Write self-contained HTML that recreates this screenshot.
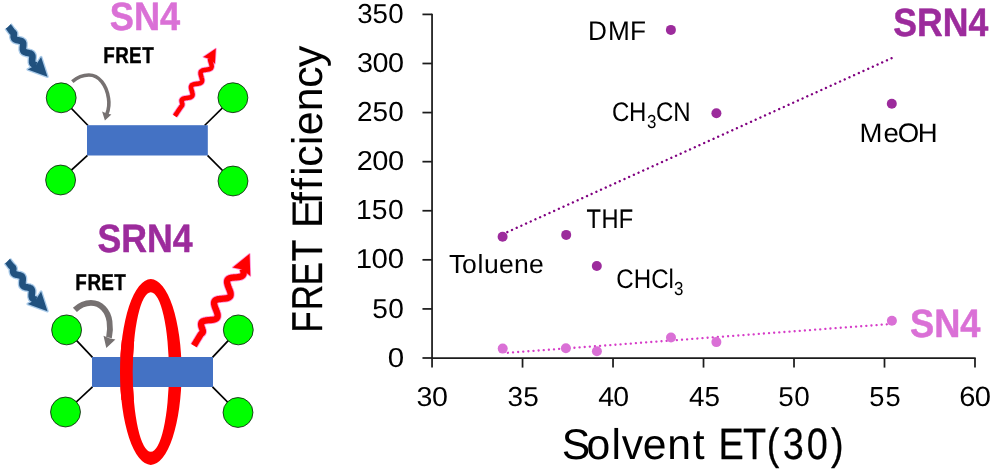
<!DOCTYPE html>
<html lang="en">
<head>
<meta charset="utf-8">
<title>FRET Efficiency vs Solvent ET(30)</title>
<style>
html,body{margin:0;padding:0;background:#fff;}
body{width:992px;height:469px;overflow:hidden;}
svg{display:block;}
text{font-family:"Liberation Sans",sans-serif;text-rendering:geometricPrecision;}
</style>
</head>
<body>
<svg width="992" height="469" viewBox="0 0 992 469">
<defs>
<filter id="glow" x="-30%" y="-30%" width="160%" height="160%"><feGaussianBlur stdDeviation="0.55"/></filter>
</defs>
<rect width="992" height="469" fill="#fff"/>

<g id="sn4-diagram">
<g stroke="#000" stroke-width="1.7" fill="none">
<line x1="61.2" y1="97.8" x2="88" y2="125.5"/>
<line x1="60.6" y1="180" x2="87.5" y2="155.3"/>
<line x1="232.9" y1="97.7" x2="204.6" y2="125.5"/>
<line x1="233" y1="181" x2="207.5" y2="155.3"/>
</g>
<g fill="#00ff00" stroke="#111" stroke-width="0.8">
<circle cx="61.2" cy="97.8" r="14.95"/>
<circle cx="232.9" cy="97.7" r="14.95"/>
<circle cx="60.6" cy="180" r="14.95"/>
<circle cx="233" cy="181" r="14.95"/>
</g>
<rect x="87" y="125.2" width="120.8" height="30.3" fill="#4472c4"/>
<text x="109.81" y="30.40" font-size="39.54" textLength="70.34" lengthAdjust="spacingAndGlyphs" font-weight="bold" stroke="#da70d6" stroke-width="0.50" stroke-linejoin="round" fill="#da70d6">SN4</text>
<text transform="translate(104.30 63.40) scale(0.8176 1)" x="-1.43 13.39 30.30 46.27" y="0" font-size="23.07" font-weight="bold" stroke="#000" stroke-width="0.40" stroke-linejoin="round" fill="#000">FRET</text>
<path d="M72.3 81.6 C 77 77.5, 83 75, 88.9 75 C 99 75, 106.5 85, 108.5 98.2 C 109.5 104, 108.8 109, 106.8 114.2" fill="none" stroke="#767171" stroke-width="3.6"/>
<path d="M104.9 120.4 L102.1 111.6 L106.6 113.4 L111.4 114.5 Z" fill="#767171"/>
<g filter="url(#glow)" opacity="0.85"><path d="M8.3 26.5 L8.5 26.7 L8.7 27.0 L8.8 27.2 L9.0 27.5 L9.2 27.7 L9.4 27.9 L9.5 28.2 L9.7 28.4 L9.9 28.7 L10.1 28.9 L10.2 29.2 L10.4 29.4 L10.6 29.6 L10.8 29.9 L11.0 30.1 L11.1 30.4 L11.3 30.6 L11.5 30.8 L11.7 31.1 L11.8 31.3 L12.0 31.6 L12.3 31.8 L12.5 32.0 L12.8 32.1 L13.0 32.3 L13.2 32.5 L13.4 32.7 L13.6 33.0 L13.8 33.3 L13.8 33.6 L13.9 33.9 L13.9 34.3 L13.9 34.7 L13.8 35.1 L13.8 35.5 L13.7 35.9 L13.7 36.2 L13.7 36.6 L13.7 37.0 L13.8 37.3 L13.9 37.6 L14.0 37.9 L14.1 38.2 L14.2 38.5 L14.4 38.7 L14.6 38.9 L14.8 39.1 L15.1 39.3 L15.4 39.5 L15.7 39.6 L16.0 39.8 L16.4 39.9 L16.7 40.0 L17.1 40.1 L17.5 40.2 L17.9 40.2 L18.3 40.3 L18.7 40.4 L19.1 40.5 L19.5 40.6 L19.9 40.7 L20.2 40.8 L20.6 40.9 L20.9 41.0 L21.3 41.1 L21.6 41.3 L21.9 41.4 L22.1 41.6 L22.3 41.8 L22.6 42.0 L22.7 42.3 L22.9 42.5 L23.0 42.8 L23.1 43.1 L23.2 43.4 L23.2 43.8 L23.2 44.1 L23.2 44.5 L23.2 44.9 L23.2 45.2 L23.2 45.6 L23.1 46.0 L23.1 46.4 L23.0 46.9 L23.0 47.3 L22.9 47.7 L22.9 48.0 L22.9 48.4 L22.9 48.8 L22.9 49.2 L22.9 49.5 L23.0 49.8 L23.1 50.2 L23.2 50.5 L23.3 50.7 L23.4 51.0 L23.6 51.2 L23.8 51.5 L24.1 51.7 L24.3 51.8 L24.6 52.0 L24.9 52.1 L25.2 52.3 L25.6 52.4 L26.0 52.5 L26.3 52.6 L26.7 52.7 L27.1 52.8 L27.5 52.8 L27.9 52.9 L28.3 53.0 L28.7 53.1 L29.1 53.2 L29.5 53.3 L29.8 53.4 L30.2 53.5 L30.5 53.6 L30.8 53.8 L31.1 54.0 L31.3 54.1 L31.6 54.3 L31.8 54.6 L31.9 54.8 L32.1 55.1 L32.2 55.4 L32.3 55.7 L32.3 56.0 L32.4 56.3 L32.4 56.7 L32.4 57.0 L32.4 57.4 L32.4 57.8 L32.3 58.2 L32.3 58.6 L32.2 59.0 L32.2 59.4 L32.2 59.8 L32.1 60.2 L32.1 60.6 L32.1 61.0 L32.1 61.4 L32.1 61.7 L32.1 62.1 L32.2 62.4 L32.2 62.7 L32.3 63.0 L32.5 63.3 L32.6 63.5 L32.8 63.8 L33.0 64.0 L33.3 64.2 L33.5 64.4 L33.8 64.5 L34.1 64.7 L34.5 64.8 L34.8 64.9 L35.2 65.0 L35.6 65.1 L36.0 65.2 L36.4 65.3" fill="none" stroke="#9dc3e6" stroke-width="9.2"/><path d="M47.5 76.7 L27.7 69.5 L36.0 64.9 L41.1 57.0 Z" fill="#9dc3e6" stroke="#9dc3e6" stroke-width="2.6" stroke-linejoin="round"/></g>
<path d="M8.3 26.5 L8.5 26.7 L8.7 27.0 L8.8 27.2 L9.0 27.5 L9.2 27.7 L9.4 27.9 L9.5 28.2 L9.7 28.4 L9.9 28.7 L10.1 28.9 L10.2 29.2 L10.4 29.4 L10.6 29.6 L10.8 29.9 L11.0 30.1 L11.1 30.4 L11.3 30.6 L11.5 30.8 L11.7 31.1 L11.8 31.3 L12.0 31.6 L12.3 31.8 L12.5 32.0 L12.8 32.1 L13.0 32.3 L13.2 32.5 L13.4 32.7 L13.6 33.0 L13.8 33.3 L13.8 33.6 L13.9 33.9 L13.9 34.3 L13.9 34.7 L13.8 35.1 L13.8 35.5 L13.7 35.9 L13.7 36.2 L13.7 36.6 L13.7 37.0 L13.8 37.3 L13.9 37.6 L14.0 37.9 L14.1 38.2 L14.2 38.5 L14.4 38.7 L14.6 38.9 L14.8 39.1 L15.1 39.3 L15.4 39.5 L15.7 39.6 L16.0 39.8 L16.4 39.9 L16.7 40.0 L17.1 40.1 L17.5 40.2 L17.9 40.2 L18.3 40.3 L18.7 40.4 L19.1 40.5 L19.5 40.6 L19.9 40.7 L20.2 40.8 L20.6 40.9 L20.9 41.0 L21.3 41.1 L21.6 41.3 L21.9 41.4 L22.1 41.6 L22.3 41.8 L22.6 42.0 L22.7 42.3 L22.9 42.5 L23.0 42.8 L23.1 43.1 L23.2 43.4 L23.2 43.8 L23.2 44.1 L23.2 44.5 L23.2 44.9 L23.2 45.2 L23.2 45.6 L23.1 46.0 L23.1 46.4 L23.0 46.9 L23.0 47.3 L22.9 47.7 L22.9 48.0 L22.9 48.4 L22.9 48.8 L22.9 49.2 L22.9 49.5 L23.0 49.8 L23.1 50.2 L23.2 50.5 L23.3 50.7 L23.4 51.0 L23.6 51.2 L23.8 51.5 L24.1 51.7 L24.3 51.8 L24.6 52.0 L24.9 52.1 L25.2 52.3 L25.6 52.4 L26.0 52.5 L26.3 52.6 L26.7 52.7 L27.1 52.8 L27.5 52.8 L27.9 52.9 L28.3 53.0 L28.7 53.1 L29.1 53.2 L29.5 53.3 L29.8 53.4 L30.2 53.5 L30.5 53.6 L30.8 53.8 L31.1 54.0 L31.3 54.1 L31.6 54.3 L31.8 54.6 L31.9 54.8 L32.1 55.1 L32.2 55.4 L32.3 55.7 L32.3 56.0 L32.4 56.3 L32.4 56.7 L32.4 57.0 L32.4 57.4 L32.4 57.8 L32.3 58.2 L32.3 58.6 L32.2 59.0 L32.2 59.4 L32.2 59.8 L32.1 60.2 L32.1 60.6 L32.1 61.0 L32.1 61.4 L32.1 61.7 L32.1 62.1 L32.2 62.4 L32.2 62.7 L32.3 63.0 L32.5 63.3 L32.6 63.5 L32.8 63.8 L33.0 64.0 L33.3 64.2 L33.5 64.4 L33.8 64.5 L34.1 64.7 L34.5 64.8 L34.8 64.9 L35.2 65.0 L35.6 65.1 L36.0 65.2 L36.4 65.3" fill="none" stroke="#21517e" stroke-width="6.6"/>
<path d="M47.5 76.7 L27.7 69.5 L36.0 64.9 L41.1 57.0 Z" fill="#21517e"/>
<g filter="url(#glow)" opacity="0.75"><path d="M174.8 116.0 L175.0 115.7 L175.3 115.3 L175.5 115.0 L175.7 114.6 L176.0 114.3 L176.2 113.9 L176.5 113.6 L176.7 113.2 L176.9 112.9 L177.2 112.5 L177.4 112.2 L177.6 111.8 L177.9 111.5 L178.1 111.1 L178.3 110.8 L178.6 110.4 L178.8 110.1 L179.1 109.7 L179.3 109.4 L179.5 109.0 L179.8 108.7 L180.0 108.3 L180.2 108.0 L180.5 107.6 L180.7 107.3 L181.0 106.9 L181.2 106.6 L181.5 106.3 L181.8 105.9 L182.0 105.6 L182.2 105.2 L182.3 104.8 L182.3 104.3 L182.3 103.8 L182.1 103.2 L182.0 102.6 L181.8 102.0 L181.7 101.4 L181.6 100.9 L181.6 100.4 L181.8 100.0 L182.0 99.6 L182.3 99.3 L182.7 99.1 L183.1 98.8 L183.6 98.6 L184.1 98.5 L184.7 98.3 L185.3 98.2 L185.9 98.1 L186.6 98.0 L187.2 97.9 L187.9 97.8 L188.5 97.7 L189.2 97.6 L189.7 97.5 L190.3 97.3 L190.8 97.1 L191.2 96.9 L191.6 96.6 L191.9 96.3 L192.2 96.0 L192.4 95.6 L192.5 95.2 L192.6 94.8 L192.6 94.3 L192.5 93.7 L192.4 93.2 L192.3 92.6 L192.1 92.0 L192.0 91.4 L191.8 90.8 L191.6 90.2 L191.4 89.6 L191.3 89.0 L191.1 88.4 L191.1 87.9 L191.0 87.4 L191.0 86.9 L191.1 86.4 L191.3 86.0 L191.5 85.7 L191.7 85.3 L192.1 85.1 L192.5 84.8 L192.9 84.6 L193.5 84.4 L194.0 84.3 L194.6 84.1 L195.2 84.0 L195.9 83.9 L196.6 83.8 L197.2 83.8 L197.9 83.7 L198.5 83.6 L199.1 83.4 L199.7 83.3 L200.2 83.1 L200.6 82.9 L201.0 82.6 L201.4 82.4 L201.7 82.0 L201.9 81.7 L202.0 81.3 L202.1 80.8 L202.1 80.3 L202.1 79.8 L202.0 79.3 L201.9 78.7 L201.7 78.1 L201.6 77.5 L201.4 76.9 L201.2 76.3 L201.0 75.7 L200.9 75.1 L200.7 74.5 L200.6 74.0 L200.6 73.4 L200.6 73.0 L200.6 72.5 L200.8 72.1 L200.9 71.7 L201.2 71.4 L201.5 71.1 L201.9 70.8 L202.3 70.6 L202.8 70.4 L203.4 70.2 L204.0 70.1 L204.6 70.0 L205.2 69.9 L205.9 69.8 L206.5 69.7 L207.2 69.6 L207.8 69.5 L208.4 69.4 L209.0 69.2 L209.6 69.1 L210.0 68.9 L210.5 68.6 L210.8 68.4 L211.1 68.1 L211.3 67.7 L211.5 67.3 L211.6 66.9 L211.7 66.4 L211.6 65.9 L211.6 65.4 L211.5 64.8 L211.3 64.2 L211.2 63.6 L211.0 63.0 L210.8 62.4 L210.6 61.8 L210.4 61.2 L210.3 60.6 L210.2 60.1 L210.1 59.5 L210.1 59.0 L210.1 58.5" fill="none" stroke="#ff70d0" stroke-width="6.2"/><path d="M215.8 48.6 L203.4 56.9 L209.9 58.9 L214.9 63.7 Z" fill="#ff70d0" stroke="#ff70d0" stroke-width="1.7" stroke-linejoin="round"/></g>
<path d="M174.8 116.0 L175.0 115.7 L175.3 115.3 L175.5 115.0 L175.7 114.6 L176.0 114.3 L176.2 113.9 L176.5 113.6 L176.7 113.2 L176.9 112.9 L177.2 112.5 L177.4 112.2 L177.6 111.8 L177.9 111.5 L178.1 111.1 L178.3 110.8 L178.6 110.4 L178.8 110.1 L179.1 109.7 L179.3 109.4 L179.5 109.0 L179.8 108.7 L180.0 108.3 L180.2 108.0 L180.5 107.6 L180.7 107.3 L181.0 106.9 L181.2 106.6 L181.5 106.3 L181.8 105.9 L182.0 105.6 L182.2 105.2 L182.3 104.8 L182.3 104.3 L182.3 103.8 L182.1 103.2 L182.0 102.6 L181.8 102.0 L181.7 101.4 L181.6 100.9 L181.6 100.4 L181.8 100.0 L182.0 99.6 L182.3 99.3 L182.7 99.1 L183.1 98.8 L183.6 98.6 L184.1 98.5 L184.7 98.3 L185.3 98.2 L185.9 98.1 L186.6 98.0 L187.2 97.9 L187.9 97.8 L188.5 97.7 L189.2 97.6 L189.7 97.5 L190.3 97.3 L190.8 97.1 L191.2 96.9 L191.6 96.6 L191.9 96.3 L192.2 96.0 L192.4 95.6 L192.5 95.2 L192.6 94.8 L192.6 94.3 L192.5 93.7 L192.4 93.2 L192.3 92.6 L192.1 92.0 L192.0 91.4 L191.8 90.8 L191.6 90.2 L191.4 89.6 L191.3 89.0 L191.1 88.4 L191.1 87.9 L191.0 87.4 L191.0 86.9 L191.1 86.4 L191.3 86.0 L191.5 85.7 L191.7 85.3 L192.1 85.1 L192.5 84.8 L192.9 84.6 L193.5 84.4 L194.0 84.3 L194.6 84.1 L195.2 84.0 L195.9 83.9 L196.6 83.8 L197.2 83.8 L197.9 83.7 L198.5 83.6 L199.1 83.4 L199.7 83.3 L200.2 83.1 L200.6 82.9 L201.0 82.6 L201.4 82.4 L201.7 82.0 L201.9 81.7 L202.0 81.3 L202.1 80.8 L202.1 80.3 L202.1 79.8 L202.0 79.3 L201.9 78.7 L201.7 78.1 L201.6 77.5 L201.4 76.9 L201.2 76.3 L201.0 75.7 L200.9 75.1 L200.7 74.5 L200.6 74.0 L200.6 73.4 L200.6 73.0 L200.6 72.5 L200.8 72.1 L200.9 71.7 L201.2 71.4 L201.5 71.1 L201.9 70.8 L202.3 70.6 L202.8 70.4 L203.4 70.2 L204.0 70.1 L204.6 70.0 L205.2 69.9 L205.9 69.8 L206.5 69.7 L207.2 69.6 L207.8 69.5 L208.4 69.4 L209.0 69.2 L209.6 69.1 L210.0 68.9 L210.5 68.6 L210.8 68.4 L211.1 68.1 L211.3 67.7 L211.5 67.3 L211.6 66.9 L211.7 66.4 L211.6 65.9 L211.6 65.4 L211.5 64.8 L211.3 64.2 L211.2 63.6 L211.0 63.0 L210.8 62.4 L210.6 61.8 L210.4 61.2 L210.3 60.6 L210.2 60.1 L210.1 59.5 L210.1 59.0 L210.1 58.5" fill="none" stroke="#ff0000" stroke-width="4.5"/>
<path d="M215.8 48.6 L203.4 56.9 L209.9 58.9 L214.9 63.7 Z" fill="#ff0000"/>
</g>
<g id="srn4-diagram">
<g stroke="#000" stroke-width="1.7" fill="none">
<line x1="66.6" y1="329.9" x2="92.5" y2="357.3"/>
<line x1="65.5" y1="412" x2="92.5" y2="386.8"/>
<line x1="238.3" y1="329.9" x2="212.5" y2="357.3"/>
<line x1="238" y1="412.5" x2="212.5" y2="386.8"/>
</g>
<g fill="#00ff00" stroke="#111" stroke-width="0.8">
<circle cx="66.6" cy="329.9" r="14.95"/>
<circle cx="238.3" cy="329.9" r="14.95"/>
<circle cx="65.5" cy="412" r="14.95"/>
<circle cx="238" cy="412.5" r="14.95"/>
</g>
<path d="M120 372 a30.8 92.9 0 1 0 61.6 0 a30.8 92.9 0 1 0 -61.6 0 Z M132.7 372 a18.1 79.8 0 1 1 36.2 0 a18.1 79.8 0 1 1 -36.2 0 Z" fill="#ff0000" fill-rule="evenodd"/>
<rect x="92" y="357" width="121" height="30" fill="#4472c4"/>
<clipPath id="lefthalf"><rect x="100" y="340" width="50.8" height="60"/></clipPath>
<path d="M120 372 a30.8 92.9 0 1 0 61.6 0 a30.8 92.9 0 1 0 -61.6 0 Z M132.7 372 a18.1 79.8 0 1 1 36.2 0 a18.1 79.8 0 1 1 -36.2 0 Z" fill="#ff0000" fill-rule="evenodd" clip-path="url(#lefthalf)"/>
<text x="97.42" y="252.30" font-size="39.54" textLength="95.12" lengthAdjust="spacingAndGlyphs" font-weight="bold" stroke="#9c2b9c" stroke-width="0.50" stroke-linejoin="round" fill="#9c2b9c">SRN4</text>
<text transform="translate(76.50 289.70) scale(0.8176 1)" x="-1.43 13.39 30.30 46.27" y="0" font-size="23.07" font-weight="bold" stroke="#000" stroke-width="0.40" stroke-linejoin="round" fill="#000">FRET</text>
<path d="M74.9 309.9 C 79 306, 85 302.9, 90.9 302.9 C 101 302.9, 108 311, 109.5 321.4 C 110.3 327, 110.2 332, 109 337.6" fill="none" stroke="#767171" stroke-width="5.8"/>
<path d="M106.3 348.1 L103.5 335.8 L109.3 338.2 L115.4 339.5 Z" fill="#767171"/>
<g filter="url(#glow)" opacity="0.85"><path d="M7.6 261.2 L7.8 261.4 L8.0 261.7 L8.1 261.9 L8.3 262.2 L8.5 262.4 L8.7 262.6 L8.9 262.9 L9.0 263.1 L9.2 263.4 L9.4 263.6 L9.6 263.8 L9.8 264.1 L9.9 264.3 L10.1 264.6 L10.3 264.8 L10.5 265.1 L10.7 265.3 L10.8 265.5 L11.0 265.8 L11.2 266.0 L11.4 266.2 L11.6 266.4 L11.9 266.6 L12.1 266.8 L12.4 267.0 L12.6 267.2 L12.8 267.4 L13.0 267.7 L13.1 268.0 L13.2 268.3 L13.3 268.6 L13.3 269.0 L13.2 269.4 L13.2 269.8 L13.1 270.2 L13.1 270.6 L13.1 271.0 L13.1 271.3 L13.2 271.7 L13.2 272.0 L13.3 272.3 L13.4 272.6 L13.5 272.9 L13.7 273.2 L13.9 273.4 L14.1 273.6 L14.3 273.8 L14.6 274.0 L14.9 274.2 L15.2 274.3 L15.5 274.4 L15.9 274.5 L16.2 274.6 L16.6 274.7 L17.0 274.8 L17.4 274.9 L17.8 275.0 L18.2 275.0 L18.6 275.1 L19.0 275.2 L19.4 275.3 L19.8 275.4 L20.1 275.5 L20.5 275.6 L20.8 275.7 L21.1 275.9 L21.4 276.1 L21.6 276.2 L21.9 276.4 L22.1 276.7 L22.2 276.9 L22.4 277.2 L22.5 277.5 L22.6 277.8 L22.6 278.1 L22.7 278.5 L22.7 278.8 L22.7 279.2 L22.7 279.6 L22.7 280.0 L22.6 280.4 L22.6 280.8 L22.5 281.2 L22.5 281.6 L22.5 282.0 L22.4 282.4 L22.4 282.8 L22.4 283.2 L22.4 283.5 L22.4 283.9 L22.5 284.2 L22.5 284.6 L22.6 284.9 L22.7 285.2 L22.9 285.4 L23.1 285.7 L23.3 285.9 L23.5 286.1 L23.7 286.3 L24.0 286.5 L24.3 286.6 L24.6 286.8 L25.0 286.9 L25.3 287.0 L25.7 287.1 L26.1 287.2 L26.5 287.2 L26.9 287.3 L27.3 287.4 L27.7 287.5 L28.1 287.5 L28.5 287.6 L28.9 287.7 L29.2 287.8 L29.6 287.9 L29.9 288.1 L30.2 288.2 L30.5 288.4 L30.8 288.5 L31.0 288.7 L31.2 289.0 L31.4 289.2 L31.6 289.5 L31.7 289.7 L31.8 290.0 L31.9 290.3 L31.9 290.7 L32.0 291.0 L32.0 291.4 L32.0 291.8 L32.0 292.2 L31.9 292.6 L31.9 293.0 L31.9 293.4 L31.8 293.8 L31.8 294.2 L31.7 294.6 L31.7 295.0 L31.7 295.4 L31.7 295.8 L31.7 296.1 L31.7 296.5 L31.8 296.8 L31.9 297.1 L32.0 297.4 L32.1 297.7 L32.2 298.0 L32.4 298.2 L32.6 298.4 L32.9 298.6 L33.1 298.8 L33.4 299.0 L33.7 299.1 L34.1 299.2 L34.4 299.3 L34.8 299.4 L35.2 299.5 L35.6 299.6 L36.0 299.7 L36.4 299.8" fill="none" stroke="#9dc3e6" stroke-width="9.2"/><path d="M47.5 311.2 L27.7 304.0 L36.0 299.4 L41.1 291.5 Z" fill="#9dc3e6" stroke="#9dc3e6" stroke-width="2.6" stroke-linejoin="round"/></g>
<path d="M7.6 261.2 L7.8 261.4 L8.0 261.7 L8.1 261.9 L8.3 262.2 L8.5 262.4 L8.7 262.6 L8.9 262.9 L9.0 263.1 L9.2 263.4 L9.4 263.6 L9.6 263.8 L9.8 264.1 L9.9 264.3 L10.1 264.6 L10.3 264.8 L10.5 265.1 L10.7 265.3 L10.8 265.5 L11.0 265.8 L11.2 266.0 L11.4 266.2 L11.6 266.4 L11.9 266.6 L12.1 266.8 L12.4 267.0 L12.6 267.2 L12.8 267.4 L13.0 267.7 L13.1 268.0 L13.2 268.3 L13.3 268.6 L13.3 269.0 L13.2 269.4 L13.2 269.8 L13.1 270.2 L13.1 270.6 L13.1 271.0 L13.1 271.3 L13.2 271.7 L13.2 272.0 L13.3 272.3 L13.4 272.6 L13.5 272.9 L13.7 273.2 L13.9 273.4 L14.1 273.6 L14.3 273.8 L14.6 274.0 L14.9 274.2 L15.2 274.3 L15.5 274.4 L15.9 274.5 L16.2 274.6 L16.6 274.7 L17.0 274.8 L17.4 274.9 L17.8 275.0 L18.2 275.0 L18.6 275.1 L19.0 275.2 L19.4 275.3 L19.8 275.4 L20.1 275.5 L20.5 275.6 L20.8 275.7 L21.1 275.9 L21.4 276.1 L21.6 276.2 L21.9 276.4 L22.1 276.7 L22.2 276.9 L22.4 277.2 L22.5 277.5 L22.6 277.8 L22.6 278.1 L22.7 278.5 L22.7 278.8 L22.7 279.2 L22.7 279.6 L22.7 280.0 L22.6 280.4 L22.6 280.8 L22.5 281.2 L22.5 281.6 L22.5 282.0 L22.4 282.4 L22.4 282.8 L22.4 283.2 L22.4 283.5 L22.4 283.9 L22.5 284.2 L22.5 284.6 L22.6 284.9 L22.7 285.2 L22.9 285.4 L23.1 285.7 L23.3 285.9 L23.5 286.1 L23.7 286.3 L24.0 286.5 L24.3 286.6 L24.6 286.8 L25.0 286.9 L25.3 287.0 L25.7 287.1 L26.1 287.2 L26.5 287.2 L26.9 287.3 L27.3 287.4 L27.7 287.5 L28.1 287.5 L28.5 287.6 L28.9 287.7 L29.2 287.8 L29.6 287.9 L29.9 288.1 L30.2 288.2 L30.5 288.4 L30.8 288.5 L31.0 288.7 L31.2 289.0 L31.4 289.2 L31.6 289.5 L31.7 289.7 L31.8 290.0 L31.9 290.3 L31.9 290.7 L32.0 291.0 L32.0 291.4 L32.0 291.8 L32.0 292.2 L31.9 292.6 L31.9 293.0 L31.9 293.4 L31.8 293.8 L31.8 294.2 L31.7 294.6 L31.7 295.0 L31.7 295.4 L31.7 295.8 L31.7 296.1 L31.7 296.5 L31.8 296.8 L31.9 297.1 L32.0 297.4 L32.1 297.7 L32.2 298.0 L32.4 298.2 L32.6 298.4 L32.9 298.6 L33.1 298.8 L33.4 299.0 L33.7 299.1 L34.1 299.2 L34.4 299.3 L34.8 299.4 L35.2 299.5 L35.6 299.6 L36.0 299.7 L36.4 299.8" fill="none" stroke="#21517e" stroke-width="6.6"/>
<path d="M47.5 311.2 L27.7 304.0 L36.0 299.4 L41.1 291.5 Z" fill="#21517e"/>
<g filter="url(#glow)" opacity="0.75"><path d="M193.9 345.6 L194.2 345.1 L194.5 344.6 L194.8 344.1 L195.1 343.7 L195.4 343.2 L195.7 342.7 L196.0 342.2 L196.3 341.7 L196.6 341.2 L196.8 340.7 L197.1 340.3 L197.4 339.8 L197.7 339.3 L198.0 338.8 L198.3 338.3 L198.6 337.8 L198.9 337.4 L199.2 336.9 L199.5 336.4 L199.8 335.9 L200.1 335.4 L200.4 334.9 L200.7 334.4 L201.1 334.0 L201.5 333.6 L202.0 333.3 L202.4 332.9 L202.7 332.4 L202.9 331.8 L202.9 331.2 L202.8 330.4 L202.5 329.6 L202.2 328.7 L201.8 327.7 L201.5 326.9 L201.3 326.1 L201.2 325.3 L201.1 324.6 L201.1 324.0 L201.2 323.4 L201.4 322.8 L201.7 322.3 L202.1 321.9 L202.6 321.5 L203.2 321.2 L203.8 321.0 L204.5 320.7 L205.3 320.6 L206.2 320.4 L207.0 320.3 L208.0 320.2 L208.9 320.2 L209.8 320.1 L210.8 320.0 L211.7 319.9 L212.6 319.8 L213.4 319.7 L214.2 319.5 L214.9 319.3 L215.6 319.0 L216.1 318.7 L216.6 318.3 L217.0 317.9 L217.3 317.4 L217.5 316.9 L217.6 316.3 L217.6 315.6 L217.6 314.9 L217.5 314.2 L217.3 313.4 L217.0 312.5 L216.7 311.7 L216.4 310.8 L216.0 309.9 L215.7 309.0 L215.3 308.1 L215.0 307.2 L214.7 306.4 L214.5 305.5 L214.3 304.7 L214.1 304.0 L214.1 303.3 L214.1 302.6 L214.2 302.0 L214.4 301.5 L214.7 301.0 L215.1 300.5 L215.6 300.2 L216.1 299.9 L216.8 299.6 L217.5 299.4 L218.3 299.2 L219.1 299.1 L220.0 299.0 L220.9 298.9 L221.8 298.8 L222.8 298.7 L223.7 298.6 L224.6 298.6 L225.5 298.4 L226.4 298.3 L227.2 298.1 L227.9 297.9 L228.5 297.7 L229.1 297.4 L229.6 297.0 L230.0 296.6 L230.3 296.1 L230.5 295.5 L230.6 294.9 L230.6 294.3 L230.6 293.6 L230.5 292.8 L230.3 292.0 L230.0 291.2 L229.7 290.3 L229.4 289.5 L229.0 288.6 L228.7 287.7 L228.3 286.8 L228.0 285.9 L227.7 285.0 L227.5 284.2 L227.3 283.4 L227.1 282.6 L227.1 281.9 L227.1 281.3 L227.2 280.7 L227.4 280.1 L227.7 279.6 L228.1 279.2 L228.5 278.8 L229.1 278.5 L229.7 278.2 L230.4 278.0 L231.2 277.8 L232.1 277.7 L232.9 277.6 L233.8 277.5 L234.8 277.4 L235.7 277.4 L236.7 277.3 L237.6 277.2 L238.5 277.1 L239.3 276.9 L240.1 276.8 L240.8 276.6 L241.5 276.3 L242.1 276.0 L242.5 275.6 L242.9 275.2 L243.2 274.7 L243.5 274.2 L243.6 273.6 L243.6 273.0 L243.6 272.2 L243.4 271.5 L243.3 270.7 L243.0 269.9 L242.7 269.0" fill="none" stroke="#ff70d0" stroke-width="8"/><path d="M249.6 253.8 L232.7 267.5 L242.5 269.6 L250.3 275.9 Z" fill="#ff70d0" stroke="#ff70d0" stroke-width="1.7" stroke-linejoin="round"/></g>
<path d="M193.9 345.6 L194.2 345.1 L194.5 344.6 L194.8 344.1 L195.1 343.7 L195.4 343.2 L195.7 342.7 L196.0 342.2 L196.3 341.7 L196.6 341.2 L196.8 340.7 L197.1 340.3 L197.4 339.8 L197.7 339.3 L198.0 338.8 L198.3 338.3 L198.6 337.8 L198.9 337.4 L199.2 336.9 L199.5 336.4 L199.8 335.9 L200.1 335.4 L200.4 334.9 L200.7 334.4 L201.1 334.0 L201.5 333.6 L202.0 333.3 L202.4 332.9 L202.7 332.4 L202.9 331.8 L202.9 331.2 L202.8 330.4 L202.5 329.6 L202.2 328.7 L201.8 327.7 L201.5 326.9 L201.3 326.1 L201.2 325.3 L201.1 324.6 L201.1 324.0 L201.2 323.4 L201.4 322.8 L201.7 322.3 L202.1 321.9 L202.6 321.5 L203.2 321.2 L203.8 321.0 L204.5 320.7 L205.3 320.6 L206.2 320.4 L207.0 320.3 L208.0 320.2 L208.9 320.2 L209.8 320.1 L210.8 320.0 L211.7 319.9 L212.6 319.8 L213.4 319.7 L214.2 319.5 L214.9 319.3 L215.6 319.0 L216.1 318.7 L216.6 318.3 L217.0 317.9 L217.3 317.4 L217.5 316.9 L217.6 316.3 L217.6 315.6 L217.6 314.9 L217.5 314.2 L217.3 313.4 L217.0 312.5 L216.7 311.7 L216.4 310.8 L216.0 309.9 L215.7 309.0 L215.3 308.1 L215.0 307.2 L214.7 306.4 L214.5 305.5 L214.3 304.7 L214.1 304.0 L214.1 303.3 L214.1 302.6 L214.2 302.0 L214.4 301.5 L214.7 301.0 L215.1 300.5 L215.6 300.2 L216.1 299.9 L216.8 299.6 L217.5 299.4 L218.3 299.2 L219.1 299.1 L220.0 299.0 L220.9 298.9 L221.8 298.8 L222.8 298.7 L223.7 298.6 L224.6 298.6 L225.5 298.4 L226.4 298.3 L227.2 298.1 L227.9 297.9 L228.5 297.7 L229.1 297.4 L229.6 297.0 L230.0 296.6 L230.3 296.1 L230.5 295.5 L230.6 294.9 L230.6 294.3 L230.6 293.6 L230.5 292.8 L230.3 292.0 L230.0 291.2 L229.7 290.3 L229.4 289.5 L229.0 288.6 L228.7 287.7 L228.3 286.8 L228.0 285.9 L227.7 285.0 L227.5 284.2 L227.3 283.4 L227.1 282.6 L227.1 281.9 L227.1 281.3 L227.2 280.7 L227.4 280.1 L227.7 279.6 L228.1 279.2 L228.5 278.8 L229.1 278.5 L229.7 278.2 L230.4 278.0 L231.2 277.8 L232.1 277.7 L232.9 277.6 L233.8 277.5 L234.8 277.4 L235.7 277.4 L236.7 277.3 L237.6 277.2 L238.5 277.1 L239.3 276.9 L240.1 276.8 L240.8 276.6 L241.5 276.3 L242.1 276.0 L242.5 275.6 L242.9 275.2 L243.2 274.7 L243.5 274.2 L243.6 273.6 L243.6 273.0 L243.6 272.2 L243.4 271.5 L243.3 270.7 L243.0 269.9 L242.7 269.0" fill="none" stroke="#ff0000" stroke-width="6.3"/>
<path d="M249.6 253.8 L232.7 267.5 L242.5 269.6 L250.3 275.9 Z" fill="#ff0000"/>
</g>
<g id="chart">
<g stroke="#1c1c1c" stroke-width="1.75" fill="none">
<path d="M432.05 13.70 V358.00 H975.69"/>
<line x1="422.45" y1="358.00" x2="432.05" y2="358.00"/>
<line x1="422.45" y1="308.92" x2="432.05" y2="308.92"/>
<line x1="422.45" y1="259.83" x2="432.05" y2="259.83"/>
<line x1="422.45" y1="210.75" x2="432.05" y2="210.75"/>
<line x1="422.45" y1="161.66" x2="432.05" y2="161.66"/>
<line x1="422.45" y1="112.57" x2="432.05" y2="112.57"/>
<line x1="422.45" y1="63.49" x2="432.05" y2="63.49"/>
<line x1="422.45" y1="14.40" x2="432.05" y2="14.40"/>
<line x1="432.05" y1="358.00" x2="432.05" y2="367.60"/>
<line x1="522.54" y1="358.00" x2="522.54" y2="367.60"/>
<line x1="613.03" y1="358.00" x2="613.03" y2="367.60"/>
<line x1="703.52" y1="358.00" x2="703.52" y2="367.60"/>
<line x1="794.01" y1="358.00" x2="794.01" y2="367.60"/>
<line x1="884.50" y1="358.00" x2="884.50" y2="367.60"/>
<line x1="974.99" y1="358.00" x2="974.99" y2="367.60"/>
</g>
<text transform="translate(389.00 366.60) scale(1.0774 1)" x="-1.07" y="0" font-size="27.38" fill="#000">0</text>
<text transform="translate(373.70 317.52) scale(1.0245 1)" x="-1.47 14.14" y="0" font-size="27.42" fill="#000">50</text>
<text transform="translate(358.40 268.43) scale(1.0725 1)" x="-2.45 12.32 27.32" y="0" font-size="27.43" fill="#000">100</text>
<text transform="translate(358.40 219.34) scale(1.0302 1)" x="-2.23 12.94 28.74" y="0" font-size="27.46" fill="#000">150</text>
<text transform="translate(358.40 170.26) scale(1.0608 1)" x="-1.52 13.18 27.91" y="0" font-size="27.38" fill="#000">200</text>
<text transform="translate(358.40 121.17) scale(1.0205 1)" x="-1.28 13.81 29.31" y="0" font-size="27.41" fill="#000">250</text>
<text transform="translate(358.40 72.09) scale(1.0504 1)" x="-1.33 13.36 28.26" y="0" font-size="27.38" fill="#000">300</text>
<text transform="translate(358.40 23.00) scale(1.0105 1)" x="-1.09 14.00 29.66" y="0" font-size="27.41" fill="#000">350</text>
<text transform="translate(417.85 406.20) scale(1.0441 1)" x="-1.26 13.59" y="0" font-size="27.38" fill="#000">30</text>
<text transform="translate(508.34 406.20) scale(1.0197 1)" x="-0.89 14.69" y="0" font-size="27.42" fill="#000">35</text>
<text transform="translate(598.83 406.20) scale(1.0365 1)" x="-0.68 13.94" y="0" font-size="27.44" fill="#000">40</text>
<text transform="translate(689.32 406.20) scale(1.0145 1)" x="-0.29 14.99" y="0" font-size="27.48" fill="#000">45</text>
<text transform="translate(779.81 406.20) scale(1.0176 1)" x="-1.47 14.14" y="0" font-size="27.42" fill="#000">50</text>
<text transform="translate(870.30 406.20) scale(0.9921 1)" x="-1.10 15.31" y="0" font-size="27.47" fill="#000">55</text>
<text transform="translate(960.79 406.20) scale(1.0419 1)" x="-1.51 13.50" y="0" font-size="27.92" fill="#000">60</text>
<text transform="translate(565.20 458.80) scale(0.9947 1)" x="-3.56 21.37 46.62 56.95 78.03 102.58 128.34" y="0" font-size="42.89" fill="#000">Solvent</text>
<text transform="translate(722.80 458.80) scale(0.8631 1)" x="-5.04 23.42 50.99 69.52 97.38 125.40" y="0" font-size="43.88" stroke="#000" stroke-width="0.25" stroke-linejoin="round" fill="#000">ET(30)</text>
<text transform="translate(321.90 329.80) rotate(-90) scale(0.8158 1)" x="-3.50 24.02 54.40 84.10" y="0" font-size="43.21" stroke="#000" stroke-width="0.34" stroke-linejoin="round" fill="#000">FRET</text>
<text transform="translate(321.90 223.20) rotate(-90) scale(1.0017 1)" x="-5.12 19.17 33.07 47.04 56.43 77.73 87.74 111.89 135.25 155.81" y="0" font-size="42.88" fill="#000">Efficiency</text>
<line x1="507.3" y1="232.1" x2="891.65" y2="58.18" stroke="#800080" stroke-width="2.4" stroke-linecap="round" stroke-dasharray="0.01 5.1341"/>
<line x1="507.9" y1="352.8" x2="886.85" y2="324.3" stroke="#d63cc8" stroke-width="2.35" stroke-linecap="round" stroke-dasharray="0.01 5.1247"/>
<g fill="#9c2b9c">
<circle cx="502.6" cy="236.8" r="5.0"/>
<circle cx="566.2" cy="234.9" r="5.0"/>
<circle cx="596.8" cy="266.0" r="5.0"/>
<circle cx="670.9" cy="29.9" r="5.0"/>
<circle cx="716.4" cy="113.2" r="5.0"/>
<circle cx="891.8" cy="103.8" r="5.0"/>
</g>
<g fill="#da70d6">
<circle cx="502.7" cy="348.6" r="5.0"/>
<circle cx="565.9" cy="348.3" r="5.0"/>
<circle cx="596.9" cy="351.2" r="5.0"/>
<circle cx="671.0" cy="337.5" r="5.0"/>
<circle cx="716.4" cy="342.1" r="5.0"/>
<circle cx="891.9" cy="320.8" r="5.0"/>
</g>
<text transform="translate(590.40 39.90) scale(0.9734 1)" x="-2.46 18.03 40.74" y="0" font-size="26.89" fill="#000">DMF</text>
<text transform="translate(613.60 120.50) scale(0.8957 1)" x="-1.90 17.19 37.41 47.42 66.55" y="0" font-size="26.84" fill="#000">CH<tspan font-size="18.83" dy="7.30">3</tspan><tspan dy="-7.30">CN</tspan></text>
<text transform="translate(860.60 141.90) scale(1.0322 1)" x="-1.11 22.19 35.98 55.30" y="0" font-size="26.69" fill="#000">MeOH</text>
<text transform="translate(587.00 227.80) scale(0.8820 1)" x="-0.44 16.54 36.13" y="0" font-size="26.74" stroke="#000" stroke-width="0.13" stroke-linejoin="round" fill="#000">THF</text>
<text transform="translate(450.30 273.00) scale(1.0141 1)" x="-1.30 11.48 26.78 33.21 48.10 62.91 77.62" y="0" font-size="26.21" fill="#000">Toluene</text>
<text transform="translate(618.00 287.60) scale(0.8980 1)" x="-1.82 17.50 36.93 56.37 62.25" y="0" font-size="26.87" fill="#000">CHCl<tspan font-size="18.83" dy="7.00">3</tspan></text>
<text x="893.32" y="36.30" font-size="39.54" textLength="94.92" lengthAdjust="spacingAndGlyphs" font-weight="bold" stroke="#9c2b9c" stroke-width="0.50" stroke-linejoin="round" fill="#9c2b9c">SRN4</text>
<text x="910.01" y="336.90" font-size="39.54" textLength="70.44" lengthAdjust="spacingAndGlyphs" font-weight="bold" stroke="#da70d6" stroke-width="0.50" stroke-linejoin="round" fill="#da70d6">SN4</text>
</g>
</svg>
</body>
</html>
